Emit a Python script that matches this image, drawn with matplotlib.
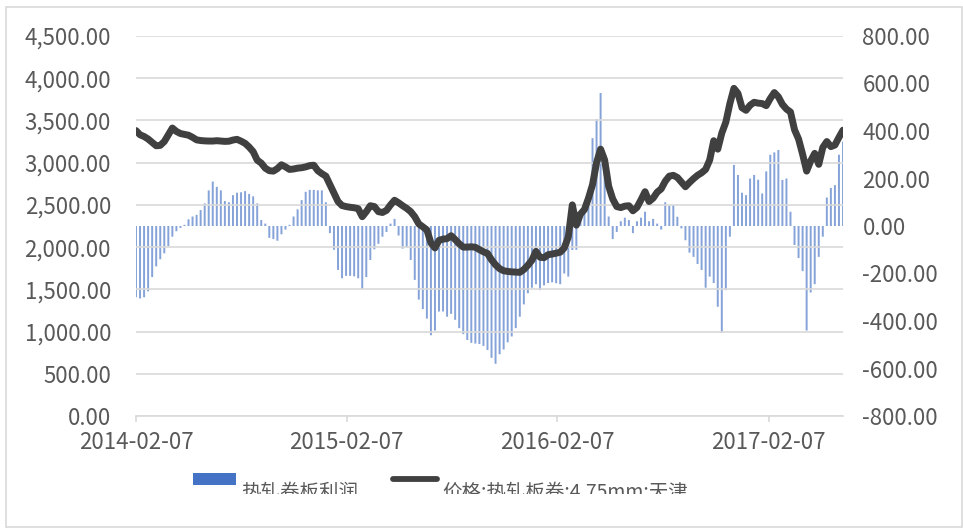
import numpy as np
import pandas as pd
import matplotlib
matplotlib.use("Agg")
import matplotlib.pyplot as plt
import matplotlib.dates as mdates
from matplotlib.patches import Rectangle
from matplotlib.lines import Line2D
from matplotlib.transforms import Bbox, TransformedBbox
from matplotlib.ticker import FuncFormatter, MultipleLocator

plt.rcParams['font.family'] = ['Noto Sans CJK SC', 'DejaVu Sans']
plt.rcParams['axes.unicode_minus'] = False

# weekly readings, first one on 2014-02-07
start_date = "2014-02-07"
price = [
    3380, 3330, 3310, 3280, 3240, 3200, 3205, 3250, 3330, 3410,
    3370, 3345, 3335, 3325, 3300, 3270, 3262, 3258, 3256, 3256,
    3260, 3256, 3252, 3254, 3268, 3276, 3255, 3229, 3185, 3130,
    3030, 2995, 2935, 2905, 2900, 2930, 2975, 2950, 2920, 2925,
    2935, 2940, 2950, 2965, 2970,
    2905, 2870, 2840, 2740, 2640, 2540, 2492, 2480, 2472, 2466,
    2455, 2360, 2420, 2490, 2480, 2420, 2410, 2435, 2500, 2555,
    2525, 2490, 2459, 2420, 2360, 2275, 2240, 2203, 2050, 1990,
    2080, 2095, 2100, 2135, 2090, 2040, 2000, 2000, 2004, 1998,
    1970, 1945, 1925, 1850, 1790, 1745, 1720, 1712, 1707, 1704,
    1701, 1735, 1785, 1845, 1950, 1880, 1875, 1910, 1918, 1928,
    1940, 1990, 2120, 2500, 2260, 2390, 2445, 2580, 2740, 3000,
    3160, 3031, 2720, 2570, 2480, 2468, 2485, 2490, 2430, 2470,
    2560, 2656, 2540, 2580, 2650, 2690, 2780, 2840, 2850, 2825,
    2770, 2715, 2765, 2810, 2850, 2880, 2920, 3031, 3260, 3160,
    3350, 3480, 3700, 3880, 3820, 3650, 3620, 3680, 3715, 3705,
    3700, 3675, 3760, 3830, 3780, 3690, 3635, 3600, 3390, 3280,
    3100, 2900, 3020, 3110, 2980, 3180, 3250, 3190, 3209, 3300,
    3385,
]
profit = [
    -300, -305, -300, -275, -215, -170, -140, -115, -85, -45,
    -22, -8, 5, 28, 40, 47, 67, 95, 150, 187,
    165, 150, 105, 100, 130, 140, 142, 147, 135, 125,
    95, 25, 10, -50, -55, -62, -35, -15, 5, 40,
    70, 109, 144, 152, 152, 150, 150, 100, -30, -100,
    -185, -220, -210, -210, -212, -220, -265, -215, -143, -98,
    -75, -45, -25, 10, 30, -40, -95, -90, -143, -227,
    -310, -350, -390, -460, -440, -360, -360, -382, -370, -395,
    -430, -455, -480, -492, -495, -497, -505, -522, -555, -580,
    -540, -520, -490, -465, -430, -382, -330, -283, -260, -245,
    -270, -250, -240, -237, -241, -245, -200, -213, -101, -100,
    53, 70, 150, 370, 450, 560, 300, 40, -55, -25,
    20, 35, 25, -30, 20, 35, 60, 20, 30, 10,
    -15, 100, 85, 88, 39, -10, -60, -112, -130, -160,
    -185, -260, -213, -240, -340, -450, -270, -45, 257, 215,
    140, 130, 200, 215, 195, 137, 230, 300, 310, 320,
    194, 200, 60, -80, -135, -190, -440, -280, -245, -130,
    -45, 120, 160, 172, 300, 355,
]
x_ticks = ["2014-02-07", "2015-02-07", "2016-02-07", "2017-02-07"]
bar_label = "热轧卷板利润"
line_label = "价格:热轧板卷:4.75mm:天津"

dates = pd.date_range(start_date, periods=len(price), freq="7D")

grey_txt = "#595959"
grid_c = "#d9d9d9"
bar_c = "#4472C4"
line_c = "#404040"

fig = plt.figure(figsize=(9.63, 5.29), dpi=100)
ax = fig.add_axes([136 / 963, 113 / 529, 707 / 963, 380 / 529])
ax2 = ax.twinx()

ax2.bar(dates, profit, width=3.4, color=bar_c, alpha=0.65, linewidth=0,
        snap=False)
ax.plot(dates, price, color=line_c, lw=5.0, solid_capstyle="round",
        solid_joinstyle="round")

ax.set_zorder(ax2.get_zorder() + 1)
ax.patch.set_visible(False)

ax.set_xlim(dates[0], dates[-1])
ax.set_ylim(0, 4500)
ax2.set_ylim(-800, 800)
ax.yaxis.set_major_locator(MultipleLocator(500))
ax2.yaxis.set_major_locator(MultipleLocator(200))
ax.yaxis.set_major_formatter(FuncFormatter(lambda v, p: f"{v:,.2f}"))
ax2.yaxis.set_major_formatter(FuncFormatter(lambda v, p: f"{v:.2f}"))
ax.set_xticks(pd.to_datetime(x_ticks))
ax.xaxis.set_major_formatter(mdates.DateFormatter("%Y-%m-%d"))

ax.grid(axis="y", color=grid_c, lw=1.2)
ax.set_axisbelow(True)
for a in (ax, ax2):
    for s in a.spines.values():
        s.set_visible(False)
ax.spines["bottom"].set_visible(True)
ax.spines["bottom"].set_color(grid_c)
ax.spines["bottom"].set_linewidth(1.2)

ax.tick_params(axis="y", length=0, pad=18, labelsize=16, labelcolor=grey_txt)
ax2.tick_params(axis="y", length=0, pad=14, labelsize=16, labelcolor=grey_txt)
ax.tick_params(axis="x", length=4.5, width=1.2, color=grid_c, pad=6,
               labelsize=16, labelcolor=grey_txt)

# frame round the whole picture
fig.patches.append(Rectangle((6 / 963, 2 / 529), 956 / 963, 520.5 / 529,
                             transform=fig.transFigure, fill=False,
                             edgecolor=grid_c, lw=1.2))

# legend drawn by hand, its text is cut off at the bottom as in the source
clip = TransformedBbox(Bbox([[0, 35 / 529], [1, 1]]), fig.transFigure)
fig.patches.append(Rectangle((193 / 963, 44 / 529), 43 / 963, 12.3 / 529,
                             transform=fig.transFigure, color=bar_c, lw=0))
fig.lines.append(Line2D([393 / 963, 437 / 963], [50 / 529, 50 / 529],
                        transform=fig.transFigure, color=line_c, lw=4.2,
                        solid_capstyle="round"))
for xpos, txt in [(241 / 963, bar_label), (442 / 963, line_label)]:
    t = fig.text(xpos, 31.5 / 529, txt, fontsize=14, color=grey_txt,
                 va="baseline", ha="left")
    t.set_clip_box(clip)
    t.set_clip_on(True)

fig.savefig("out.png", dpi=100)
